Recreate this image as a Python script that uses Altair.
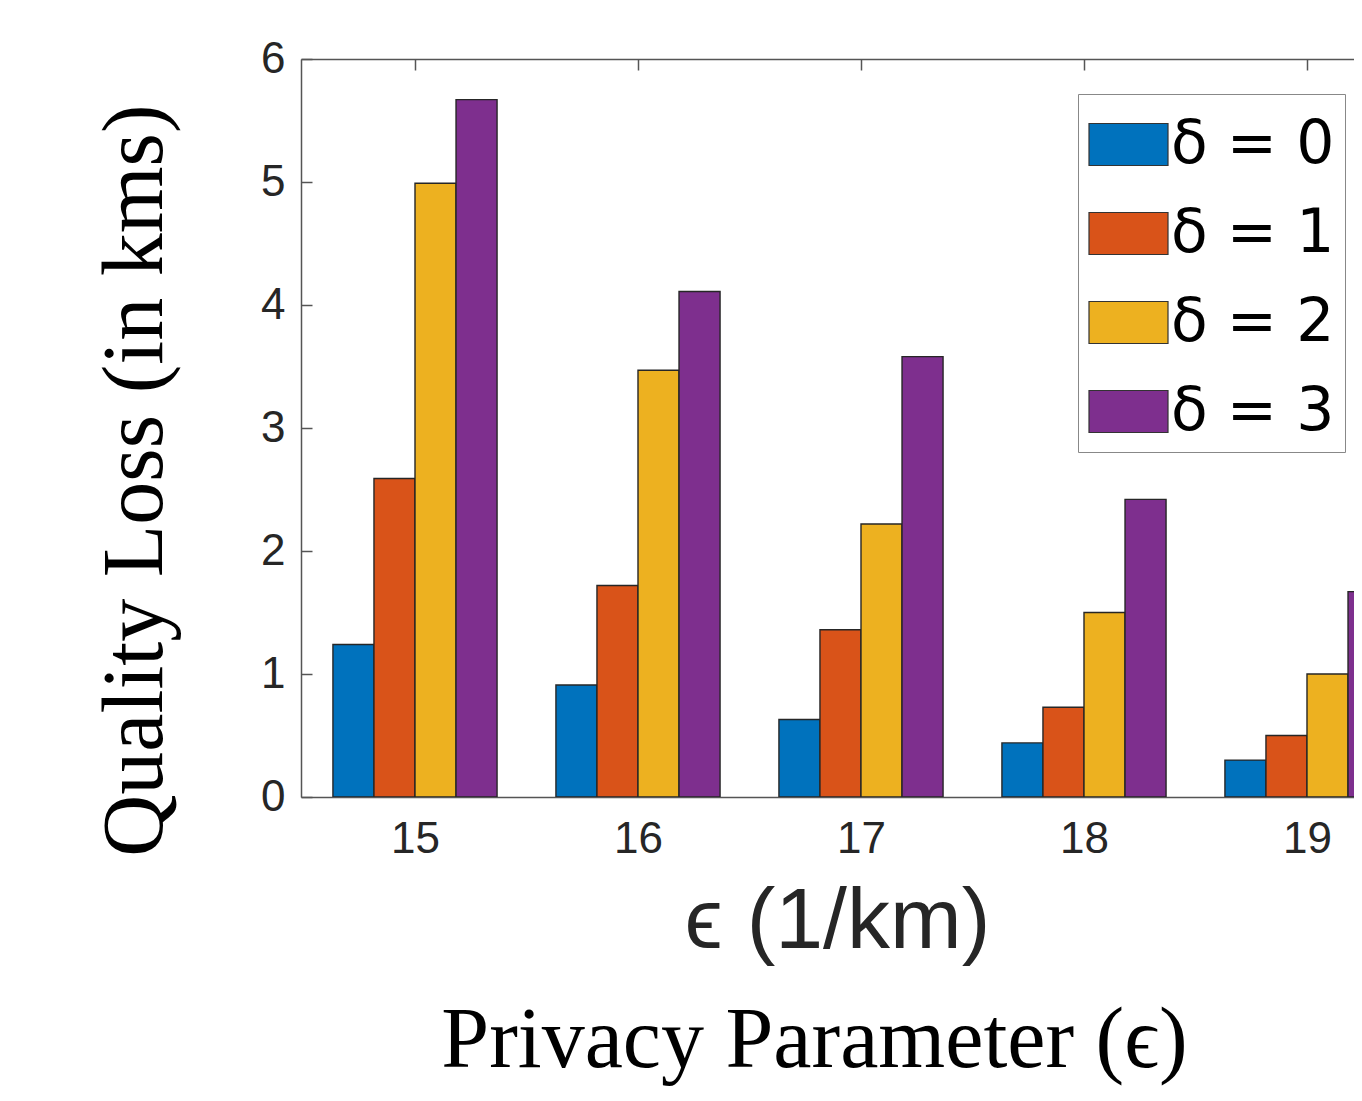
import altair as alt
import pandas as pd

# ---- data ----
epsilons = [15, 16, 17, 18, 19]
deltas = [0, 1, 2, 3]
delta_labels = ["δ = 0", "δ = 1", "δ = 2", "δ = 3"]
loss_d0 = [1.24, 0.91, 0.63, 0.44, 0.30]
loss_d1 = [2.59, 1.72, 1.36, 0.73, 0.50]
loss_d2 = [4.99, 3.47, 2.22, 1.50, 1.00]
loss_d3 = [5.67, 4.11, 3.58, 2.42, 1.67]
series = [loss_d0, loss_d1, loss_d2, loss_d3]
colors = ["#0072BD", "#D95319", "#EDB120", "#7E2F8E"]
y_ticks = [0, 1, 2, 3, 4, 5, 6]

rows = []
for d, lab, vals in zip(deltas, delta_labels, series):
    for e, v in zip(epsilons, vals):
        rows.append({"eps": e, "delta": d, "label": lab, "loss": v})
df = pd.DataFrame(rows)

W, H = 1053, 738
BAR_W = 0.184
x_scale = alt.Scale(domain=[14.4888, 19.2108], nice=False, zero=False)
y_scale = alt.Scale(domain=[0, 6], nice=False)

AX = "#555555"
TXT = "#262626"

base = alt.Chart(df).transform_calculate(
    xl=f"datum.eps + (datum.delta - 2) * {BAR_W}",
    xr=f"datum.eps + (datum.delta - 1) * {BAR_W}",
)

bars = base.mark_bar(clip=True, stroke="#262626", strokeWidth=1.4, opacity=1).encode(
    x=alt.X("xl:Q", scale=x_scale, axis=alt.Axis(
        orient="bottom", values=epsilons, format="d", ticks=False, tickSize=0,
        grid=False, domain=True, domainColor=AX, domainWidth=1.5,
        labelFont="Liberation Sans", labelFontSize=44, labelColor=TXT, labelPadding=20,
        title="ϵ (1/km)", titleFont="Liberation Sans", titleFontSize=86,
        titleFontWeight="normal", titleColor=TXT, titleX=536, titleY=150,
        titleAlign="center", titleBaseline="alphabetic")),
    x2="xr:Q",
    y=alt.Y("loss:Q", scale=y_scale, axis=alt.Axis(
        orient="left", values=y_ticks, format="d", ticks=False, tickSize=0,
        grid=False, domain=True, domainColor=AX, domainWidth=1.5,
        labelFont="Liberation Sans", labelFontSize=44, labelColor=TXT, labelPadding=16,
        title="Quality Loss (in kms)", titleFont="Liberation Serif", titleFontSize=86,
        titleFontWeight="normal", titleColor="black", titleX=-140, titleY=421,
        titleAngle=270, titleAlign="center", titleBaseline="alphabetic")),
    y2=alt.datum(0),
    color=alt.Color("label:N", scale=alt.Scale(domain=delta_labels, range=colors),
        legend=alt.Legend(
            orient="none", legendX=777, legendY=35, title=None,
            symbolType="M-1,-0.532H1V0.532H-1Z", symbolSize=6241,
            symbolStrokeColor="#333333", symbolStrokeWidth=1.2, symbolOpacity=1,
            labelFont="DejaVu Sans", labelFontSize=60, labelColor="black",
            labelOffset=2, labelLimit=500,
            rowPadding=18, padding=10, strokeColor="#888888", fillColor="white")),
)

frame = base.mark_bar(opacity=0).encode(
    x=alt.X("xl:Q", scale=x_scale, axis=alt.Axis(
        orient="bottom", offset=-H, values=epsilons, labels=False, ticks=True,
        tickSize=11, tickColor=AX, tickWidth=1.5, grid=False, domain=True,
        domainColor=AX, domainWidth=1.5,
        title="Privacy Parameter (ϵ)", titleFont="Liberation Serif", titleFontSize=86,
        titleFontWeight="normal", titleColor="black", titleX=513, titleY=1007,
        titleAlign="center", titleBaseline="alphabetic")),
    x2="xr:Q",
    y=alt.Y("loss:Q", scale=y_scale, axis=alt.Axis(
        orient="right", offset=-W, values=y_ticks, labels=False, ticks=True,
        tickSize=11, tickColor=AX, tickWidth=1.5, grid=False, domain=False,
        title="")),
    y2=alt.datum(0),
)

chart = alt.layer(bars, frame).resolve_axis(x="independent", y="independent").properties(
    width=W, height=H,
    autosize=alt.AutoSizeParams(type="none"),
    padding={"left": 293, "top": 51, "right": 0, "bottom": 292},
    background="white",
).configure_view(strokeWidth=0)

chart.save("out.html", embed_options={"renderer": "svg", "actions": False})
